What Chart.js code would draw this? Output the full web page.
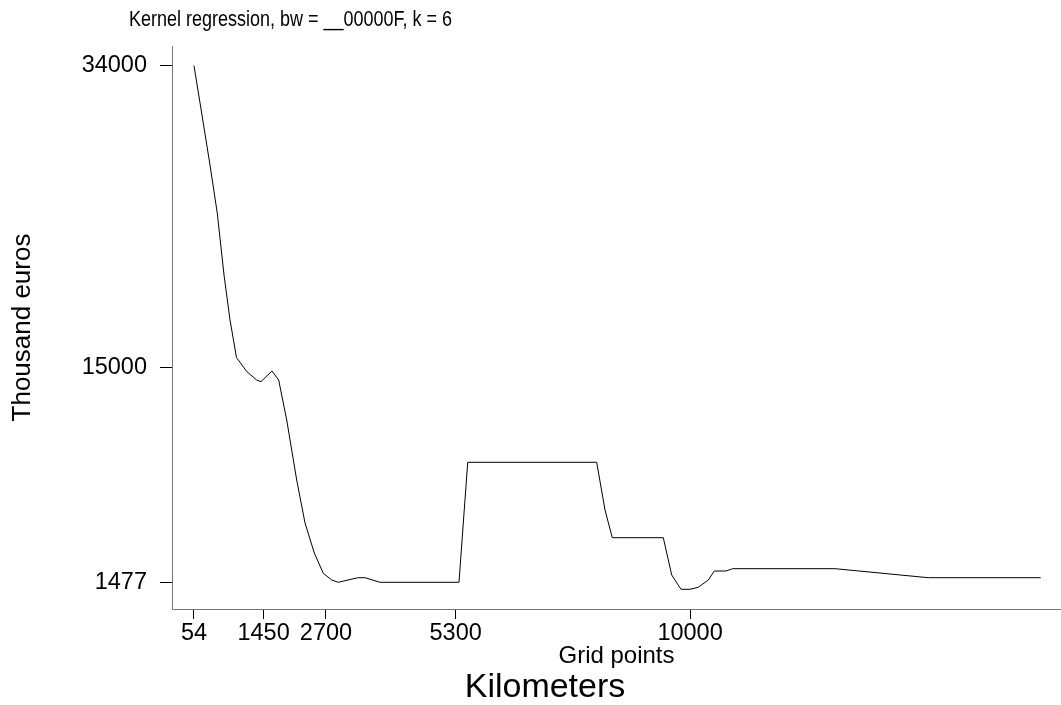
<!DOCTYPE html>
<html>
<head>
<meta charset="utf-8">
<script src="https://cdn.jsdelivr.net/npm/chart.js@4/dist/chart.umd.min.js"></script>
<style>
  html, body { margin: 0; padding: 0; background: #fff; }
  #wrap { width: 1061px; height: 705px; }
</style>
</head>
<body>
<div id="wrap"><canvas id="chart" width="1061" height="705"></canvas></div>
<script>
// === Data ===
const gridKm = [54, 214, 375, 521, 656, 776, 906, 1111, 1311, 1397, 1618, 1752, 1913, 2113, 2280, 2466, 2646, 2815, 2947, 3182, 3348, 3483, 3783, 5367, 5542, 8128, 8295, 8441, 9463, 9632, 9818, 9999, 10165, 10366, 10486, 10721, 10855, 12906, 14776, 17030];
const thousandEuros = [34000, 30898, 27751, 24712, 20829, 17997, 15637, 14756, 14221, 14114, 14788, 14221, 11704, 7928, 5222, 3334, 2057, 1635, 1490, 1666, 1780, 1780, 1490, 1490, 9042, 9042, 6040, 4297, 4297, 1950, 1050, 1050, 1176, 1635, 2201, 2201, 2346, 2346, 1780, 1780];
const xTicks = [54, 1450, 2700, 5300, 10000];
const yTicks = [1477, 15000, 34000];

const titleText = "Kernel regression, bw = __00000F, k = 6";
const FONT = "'Liberation Sans', Arial, sans-serif";

// Free text: top title (narrow) and the big "Kilometers" caption
const textPlugin = {
  id: "freeText",
  afterDraw(chart) {
    const ctx = chart.ctx;
    ctx.save();
    ctx.fillStyle = "#000";
    ctx.textBaseline = "alphabetic";
    ctx.textAlign = "left";
    ctx.font = "22px " + FONT;
    ctx.translate(129, 26);
    ctx.scale(0.818, 1);
    ctx.fillText(titleText, 0, 0);
    ctx.restore();

    ctx.save();
    ctx.fillStyle = "#000";
    ctx.textAlign = "center";
    ctx.textBaseline = "alphabetic";
    ctx.font = "34px " + FONT;
    ctx.fillText("Kilometers", 545, 697);
    ctx.restore();
  },
};

new Chart(document.getElementById("chart"), {
  type: "line",
  data: {
    datasets: [{
      data: gridKm.map((x, i) => ({ x, y: thousandEuros[i] })),
      borderColor: "#000",
      borderWidth: 1,
      pointRadius: 0,
      tension: 0,
      fill: false,
    }],
  },
  options: {
    responsive: false,
    animation: false,
    layout: { padding: { top: 46, left: 0, right: 0, bottom: 0 } },
    plugins: {
      legend: { display: false },
      tooltip: { enabled: false },
    },
    scales: {
      x: {
        type: "linear",
        min: -387,
        max: 17437,
        afterBuildTicks: (s) => { s.ticks = xTicks.map((v) => ({ value: v })); },
        afterFit: (s) => { s.height = 96; },
        grid: { drawOnChartArea: false, drawTicks: true, tickLength: 10, tickColor: "#000" },
        border: { color: "#777", width: 1 },
        ticks: {
          autoSkip: false,
          maxRotation: 0,
          padding: 0,
          color: "#000",
          font: { family: FONT, size: 23.5 },
          callback: (v) => String(v),
        },
        title: {
          display: true,
          text: "Grid points",
          color: "#000",
          font: { family: FONT, size: 24 },
          padding: { top: 0, bottom: 34 },
        },
      },
      y: {
        type: "linear",
        min: -190,
        max: 35240,
        afterBuildTicks: (s) => { s.ticks = yTicks.map((v) => ({ value: v })); },
        afterFit: (s) => { s.width = 172; },
        grid: { drawOnChartArea: false, drawTicks: true, tickLength: 12, tickColor: "#000" },
        border: { color: "#777", width: 1 },
        ticks: {
          padding: 13,
          color: "#000",
          font: { family: FONT, size: 23.5 },
          callback: (v) => String(v),
        },
        title: {
          display: true,
          text: "Thousand euros",
          color: "#000",
          font: { family: FONT, size: 26 },
          padding: { top: 7, bottom: 0 },
        },
      },
    },
  },
  plugins: [textPlugin],
});
</script>
</body>
</html>
